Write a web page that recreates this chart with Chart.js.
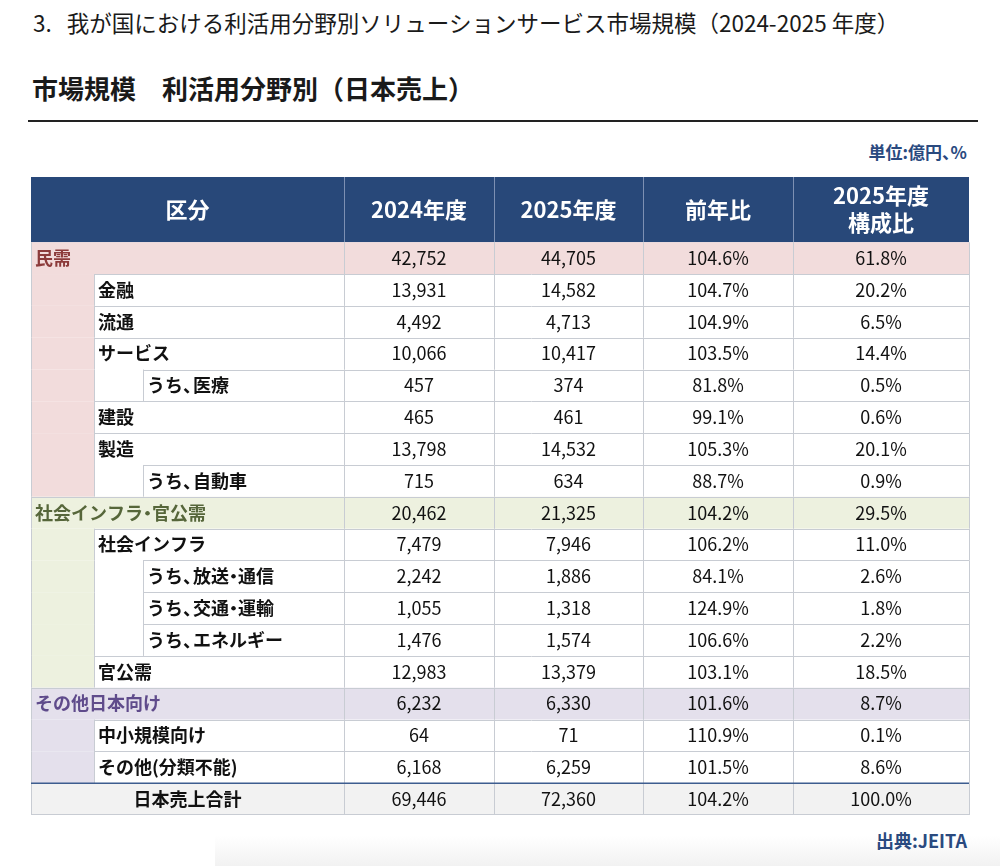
<!DOCTYPE html>
<html lang="ja">
<head>
<meta charset="utf-8">
<script src="https://cdn.jsdelivr.net/npm/chart.js@4.4.1/dist/chart.umd.min.js"></script>
<style>
  html, body { margin: 0; padding: 0; background: #fff; }
  body { width: 1000px; height: 866px; position: relative; overflow: hidden;
         font-family: "Noto Sans CJK JP", "Noto Sans", sans-serif; color: #1a1a1a; }
  #title { position: absolute; left: 33px; top: 7px; font-size: 22.5px; line-height: 30px; white-space: nowrap; }
  #subtitle { position: absolute; left: 32px; top: 71px; font-size: 26px; line-height: 34px; font-weight: bold; white-space: nowrap; }
  #rule { position: absolute; left: 28px; top: 120px; width: 950px; height: 2px; background: #222; }
  #unit { position: absolute; right: 33px; top: 140px; font-size: 17px; line-height: 24px; font-weight: bold;
          color: #2a4a7f; font-feature-settings: "palt"; }
  #source { position: absolute; right: 33px; top: 828px; font-size: 18px; line-height: 24px; font-weight: bold; color: #2a4a7f; }
  #shade { position: absolute; left: 215px; top: 836px; width: 785px; height: 30px;
           background: linear-gradient(to bottom, rgba(240,240,240,0), rgba(236,236,236,0.7)); }
  #tableChart { position: absolute; left: 30px; top: 176px; }
</style>
</head>
<body>
<div id="title">3.&nbsp;&nbsp; 我が国における利活用分野別ソリューションサービス市場規模（2024-2025 年度）</div>
<div id="subtitle">市場規模　利活用分野別（日本売上）</div>
<div id="rule"></div>
<div id="unit">単位:億円、%</div>
<div id="shade"></div>
<canvas id="tableChart" width="940" height="640"></canvas>
<div id="source">出典:JEITA</div>

<script>
// --- data ---
const columns = ['区分', '2024年度', '2025年度', '前年比', '2025年度\n構成比'];
const categories = ['民需', '金融', '流通', 'サービス', 'うち、医療', '建設', '製造', 'うち、自動車',
    '社会インフラ・官公需', '社会インフラ', 'うち、放送・通信', 'うち、交通・運輸', 'うち、エネルギー', '官公需',
    'その他日本向け', '中小規模向け', 'その他(分類不能)', '日本売上合計'];
// 0 = group, 1 = sub item, 2 = "うち" item, -1 = total
const levels = [0, 1, 1, 1, 2, 1, 1, 2, 0, 1, 2, 2, 2, 1, 0, 1, 1, -1];
const sales2024 = [42752, 13931, 4492, 10066, 457, 465, 13798, 715, 20462, 7479, 2242, 1055, 1476, 12983, 6232, 64, 6168, 69446];
const sales2025 = [44705, 14582, 4713, 10417, 374, 461, 14532, 634, 21325, 7946, 1886, 1318, 1574, 13379, 6330, 71, 6259, 72360];
const yoyRatio = [104.6, 104.7, 104.9, 103.5, 81.8, 99.1, 105.3, 88.7, 104.2, 106.2, 84.1, 124.9, 106.6, 103.1, 101.6, 110.9, 101.5, 104.2];
const share2025 = [61.8, 20.2, 6.5, 14.4, 0.5, 0.6, 20.1, 0.9, 29.5, 11.0, 2.6, 1.8, 2.2, 18.5, 8.7, 0.1, 8.6, 100.0];

// --- layout / style ---
const TABLE_W = 938;
const colEdges = [0, 313, 463, 612, 762, 938];
const indents = [0, 63, 112];
const HEADER_ROWS = 2.05;
const groupFill = ['#f2dcdc', '#edf1df', '#e4e0ec'];
const groupText = ['#8c3b3b', '#56663a', '#5f4b8b'];
const headerFill = '#284879';
const totalFill = '#f2f2f2';
const gridColor = '#c8ccd3';

// left aligned text with narrow 、 and ・ (like proportional Japanese fonts)
function fillCompact(ctx, text, x, y) {
    let cx = x;
    for (const ch of text) {
        const w = ctx.measureText(ch).width;
        if (ch === '、') {
            ctx.fillText(ch, cx, y);
            cx += w * 0.55;
        } else if (ch === '・') {
            ctx.fillText(ch, cx - w * 0.25, y);
            cx += w * 0.5;
        } else {
            ctx.fillText(ch, cx, y);
            cx += w;
        }
    }
}

const tablePlugin = {
    id: 'tablePlugin',
    afterDraw(chart) {
        const ctx = chart.ctx;
        const x = chart.scales.x, y = chart.scales.y;
        const px = v => x.getPixelForValue(v);
        const py = v => y.getPixelForValue(v);
        const crisp = v => Math.round(v) + 0.5;

        ctx.save();
        // header
        ctx.fillStyle = headerFill;
        ctx.fillRect(px(0), py(0), px(TABLE_W) - px(0), py(HEADER_ROWS) - py(0));
        ctx.strokeStyle = '#7d90b3';
        ctx.lineWidth = 1;
        for (let c = 1; c < colEdges.length - 1; c++) {
            ctx.beginPath();
            ctx.moveTo(crisp(px(colEdges[c])), py(0));
            ctx.lineTo(crisp(px(colEdges[c])), py(HEADER_ROWS));
            ctx.stroke();
        }
        ctx.fillStyle = '#fff';
        ctx.font = 'bold 22px "Noto Sans CJK JP", sans-serif';
        ctx.textAlign = 'center';
        ctx.textBaseline = 'middle';
        columns.forEach((txt, c) => {
            const cx = (px(colEdges[c]) + px(colEdges[c + 1])) / 2;
            const cy = (py(0) + py(HEADER_ROWS)) / 2;
            const lines = txt.split('\n');
            lines.forEach((ln, k) => {
                ctx.fillText(ln, cx, cy + (k - (lines.length - 1) / 2) * 27);
            });
        });

        // body rows
        let group = -1;
        categories.forEach((label, i) => {
            const lv = levels[i];
            if (lv === 0) group++;
            const y0 = py(HEADER_ROWS + i), y1 = py(HEADER_ROWS + i + 1);
            const cy = (y0 + y1) / 2;

            if (lv === 0) {
                ctx.fillStyle = groupFill[group];
                ctx.fillRect(px(0), y0, px(TABLE_W) - px(0), y1 - y0);
            } else if (lv === -1) {
                ctx.fillStyle = totalFill;
                ctx.fillRect(px(0), y0, px(TABLE_W) - px(0), y1 - y0);
            } else {
                ctx.fillStyle = groupFill[group];
                ctx.fillRect(px(0), y0, px(indents[1]) - px(0), y1 - y0);
            }

            // horizontal line on top of row
            ctx.strokeStyle = gridColor;
            ctx.lineWidth = 1;
            const startX = lv > 0 ? indents[lv] : 0;
            if (i > 0) {
                ctx.beginPath();
                ctx.moveTo(px(startX), crisp(y0));
                ctx.lineTo(px(TABLE_W), crisp(y0));
                ctx.stroke();
            }
            // verticals
            const verts = [0, TABLE_W].concat(colEdges.slice(1, -1));
            if (lv >= 1) verts.push(indents[1]);
            if (lv === 2) verts.push(indents[2]);
            verts.forEach(v => {
                ctx.beginPath();
                ctx.moveTo(crisp(px(v)), y0);
                ctx.lineTo(crisp(px(v)), y1);
                ctx.stroke();
            });
            if (lv === -1) {
                ctx.strokeStyle = '#3d5d8f';
                ctx.lineWidth = 1.5;
                ctx.beginPath();
                ctx.moveTo(px(0), y0);
                ctx.lineTo(px(TABLE_W), y0);
                ctx.stroke();
                ctx.strokeStyle = gridColor;
                ctx.lineWidth = 1;
                ctx.beginPath();
                ctx.moveTo(px(0), crisp(y1) - 1);
                ctx.lineTo(px(TABLE_W), crisp(y1) - 1);
                ctx.stroke();
            }

            // label
            ctx.font = 'bold 18px "Noto Sans CJK JP", sans-serif';
            ctx.textBaseline = 'middle';
            if (lv === -1) {
                ctx.fillStyle = '#111';
                ctx.textAlign = 'center';
                ctx.fillText(label, (px(colEdges[0]) + px(colEdges[1])) / 2, cy);
            } else {
                ctx.fillStyle = lv === 0 ? groupText[group] : '#111';
                ctx.textAlign = 'left';
                fillCompact(ctx, label, px(indents[lv]) + 4, cy);
            }

            // values
            const cells = [
                sales2024[i].toLocaleString('en-US'),
                sales2025[i].toLocaleString('en-US'),
                yoyRatio[i].toFixed(1) + '%',
                share2025[i].toFixed(1) + '%'
            ];
            ctx.font = '18px "Noto Sans CJK JP", sans-serif';
            ctx.fillStyle = '#111';
            ctx.textAlign = 'center';
            cells.forEach((t, c) => {
                const cx = (px(colEdges[c + 1]) + px(colEdges[c + 2])) / 2;
                ctx.fillText(t, cx, cy);
            });
        });
        ctx.restore();
    }
};

const ctx = document.getElementById('tableChart').getContext('2d');
const tableChart = new Chart(ctx, {
    type: 'scatter',
    data: { datasets: [] },
    options: {
        responsive: false,
        animation: false,
        events: [],
        layout: { padding: 1 },
        plugins: { legend: { display: false }, tooltip: { enabled: false }, title: { display: false } },
        scales: {
            x: { type: 'linear', min: 0, max: TABLE_W, display: false },
            y: { type: 'linear', min: 0, max: HEADER_ROWS + categories.length, reverse: true, display: false }
        }
    },
    plugins: [tablePlugin]
});
</script>
</body>
</html>
